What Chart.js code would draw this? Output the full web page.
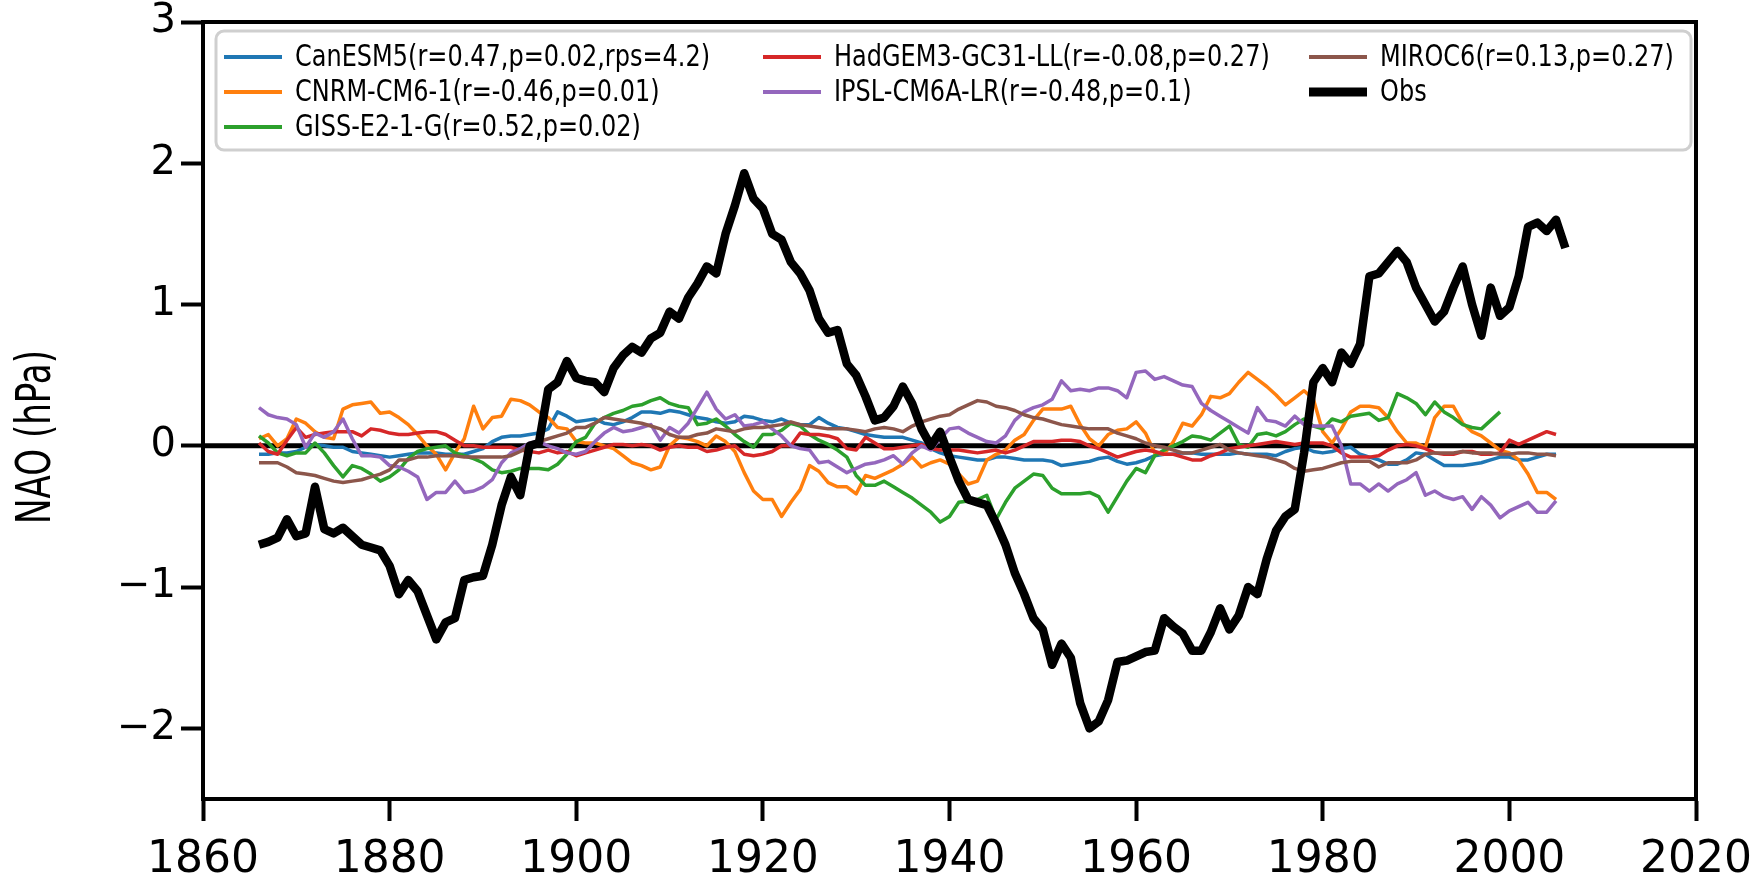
<!DOCTYPE html>
<html lang="en">
<head>
    <meta charset="UTF-8">
    <title>NAO - models vs obs</title>
    <script src="https://cdn.jsdelivr.net/npm/chart.js@4.4.1/dist/chart.umd.min.js"></script>
    <style>
        html, body { margin: 0; padding: 0; background: #ffffff; }
        #wrap { width: 1754px; height: 886px; }
    </style>
</head>
<body>
<div id="wrap"><canvas id="naoChart" width="1754" height="886"></canvas></div>
<script>
    // years: models 1866-2005, GISS 1866-1999, obs 1866-2006
    const years = Array.from({ length: 140 }, (_, i) => 1866 + i);
    const obsYears = Array.from({ length: 141 }, (_, i) => 1866 + i);

    const canesm5 = [
        -0.06, -0.06, -0.05, -0.05, -0.04, -0.01, 0.01, 0.00, -0.01, -0.01,
        -0.04, -0.05, -0.06, -0.07, -0.08, -0.07, -0.06, -0.05, -0.05, -0.05,
        -0.06, -0.06, -0.06, -0.04, -0.02, 0.03, 0.06, 0.07, 0.07, 0.08,
        0.09, 0.12, 0.24, 0.21, 0.17, 0.18, 0.19, 0.16, 0.15, 0.17,
        0.20, 0.24, 0.24, 0.23, 0.25, 0.24, 0.22, 0.20, 0.19, 0.17,
        0.16, 0.17, 0.21, 0.20, 0.18, 0.17, 0.19, 0.16, 0.15, 0.15,
        0.20, 0.16, 0.13, 0.12, 0.10, 0.08, 0.07, 0.06, 0.06, 0.06,
        0.04, 0.02, -0.02, -0.05, -0.07, -0.08, -0.09, -0.10, -0.10, -0.08,
        -0.08, -0.09, -0.10, -0.10, -0.10, -0.11, -0.14, -0.13, -0.12, -0.11,
        -0.09, -0.08, -0.11, -0.13, -0.12, -0.10, -0.07, -0.06, -0.06, -0.05,
        -0.05, -0.06, -0.06, -0.06, -0.06, -0.05, -0.06, -0.06, -0.06, -0.07,
        -0.04, -0.02, -0.01, -0.04, -0.05, -0.04, -0.02, -0.01, -0.06, -0.08,
        -0.10, -0.13, -0.13, -0.10, -0.05, -0.06, -0.10, -0.14, -0.14, -0.14,
        -0.13, -0.12, -0.10, -0.08, -0.08, -0.10, -0.10, -0.08, -0.06, -0.06
    ];
    const cnrm = [
        0.05, 0.08, 0.00, 0.05, 0.19, 0.16, 0.10, 0.06, 0.05, 0.26,
        0.29, 0.30, 0.31, 0.23, 0.24, 0.20, 0.15, 0.08, 0.00, -0.06,
        -0.17, -0.05, 0.05, 0.28, 0.12, 0.20, 0.21, 0.33, 0.32, 0.29,
        0.24, 0.20, 0.13, 0.12, 0.03, 0.02, 0.02, 0.00, -0.02, -0.07,
        -0.12, -0.14, -0.17, -0.15, 0.00, 0.06, 0.05, 0.03, 0.00, 0.07,
        0.03, -0.04, -0.19, -0.32, -0.38, -0.38, -0.50, -0.40, -0.31, -0.14,
        -0.18, -0.26, -0.29, -0.29, -0.34, -0.21, -0.23, -0.20, -0.17, -0.13,
        -0.08, -0.15, -0.12, -0.10, -0.13, -0.20, -0.27, -0.25, -0.10, -0.06,
        -0.03, 0.04, 0.08, 0.18, 0.26, 0.26, 0.26, 0.28, 0.15, 0.05,
        0.00, 0.08, 0.11, 0.12, 0.17, 0.09, -0.05, -0.06, 0.03, 0.16,
        0.14, 0.22, 0.35, 0.34, 0.37, 0.45, 0.52, 0.47, 0.42, 0.36,
        0.29, 0.34, 0.39, 0.33, 0.10, 0.02, 0.12, 0.24, 0.28, 0.28,
        0.27, 0.20, 0.10, 0.02, 0.02, -0.01, 0.20, 0.28, 0.28, 0.16,
        0.10, 0.07, 0.02, -0.03, -0.05, -0.10, -0.20, -0.33, -0.33, -0.38
    ];
    const giss = [
        0.07, 0.02, -0.05, -0.07, -0.05, -0.05, 0.02, -0.05, -0.14, -0.22,
        -0.14, -0.16, -0.20, -0.25, -0.22, -0.17, -0.09, -0.04, -0.02, -0.01,
        0.00, -0.05, -0.07, -0.09, -0.12, -0.17, -0.19, -0.18, -0.16, -0.16,
        -0.16, -0.17, -0.13, -0.06, 0.03, 0.06, 0.16, 0.20, 0.23, 0.25,
        0.28, 0.29, 0.32, 0.34, 0.30, 0.28, 0.27, 0.15, 0.16, 0.19,
        0.14, 0.08, 0.03, -0.01, 0.08, 0.08, 0.11, 0.16, 0.14, 0.08,
        0.04, 0.01, -0.03, -0.08, -0.21, -0.28, -0.28, -0.25, -0.29, -0.33,
        -0.37, -0.42, -0.47, -0.54, -0.50, -0.40, -0.39, -0.38, -0.35, -0.52,
        -0.40, -0.30, -0.25, -0.20, -0.21, -0.30, -0.34, -0.34, -0.34, -0.33,
        -0.36, -0.47, -0.36, -0.25, -0.16, -0.19, -0.07, -0.03, 0.00, 0.03,
        0.07, 0.06, 0.04, 0.09, 0.14, 0.01, -0.01, 0.08, 0.09, 0.07,
        0.10, 0.15, 0.19, 0.14, 0.12, 0.19, 0.17, 0.21, 0.22, 0.23,
        0.18, 0.20, 0.37, 0.34, 0.30, 0.22, 0.31, 0.24, 0.20, 0.15,
        0.13, 0.12, 0.18, 0.24
    ];
    const hadgem3 = [
        0.02, -0.04, -0.06, 0.04, 0.13, 0.06, 0.08, 0.09, 0.10, 0.10,
        0.10, 0.07, 0.12, 0.11, 0.09, 0.08, 0.08, 0.09, 0.10, 0.10,
        0.08, 0.04, 0.00, 0.00, -0.01, -0.01, -0.01, -0.01, -0.03, -0.04,
        -0.05, -0.03, -0.05, -0.04, -0.07, -0.05, -0.03, -0.01, 0.01, 0.01,
        0.00, 0.01, 0.00, -0.03, -0.01, 0.00, -0.01, -0.01, -0.04, -0.03,
        -0.01, 0.00, -0.06, -0.07, -0.06, -0.04, 0.00, 0.00, 0.09, 0.08,
        0.08, 0.07, 0.05, -0.02, -0.03, 0.06, 0.02, -0.02, -0.02, -0.01,
        0.00, 0.01, -0.02, -0.03, -0.03, -0.03, -0.04, -0.05, -0.04, -0.03,
        -0.05, -0.03, 0.00, 0.03, 0.03, 0.03, 0.04, 0.04, 0.03, 0.00,
        -0.02, -0.05, -0.08, -0.06, -0.04, -0.03, -0.04, -0.06, -0.06, -0.08,
        -0.10, -0.10, -0.07, -0.05, -0.02, -0.01, 0.00, 0.01, 0.02, 0.03,
        0.02, 0.01, 0.02, 0.02, 0.02, 0.00, -0.05, -0.08, -0.08, -0.08,
        -0.07, -0.03, 0.00, 0.01, 0.00, -0.02, -0.05, -0.06, -0.06, -0.04,
        -0.04, -0.06, -0.06, -0.05, 0.04, 0.01, 0.04, 0.07, 0.10, 0.08
    ];
    const ipsl = [
        0.27, 0.22, 0.20, 0.19, 0.15, -0.01, 0.09, 0.06, 0.10, 0.19,
        0.05, -0.07, -0.07, -0.08, -0.14, -0.15, -0.18, -0.22, -0.38, -0.33,
        -0.33, -0.25, -0.33, -0.32, -0.29, -0.24, -0.12, -0.05, -0.02, 0.02,
        0.03, 0.00, -0.02, -0.05, -0.06, -0.04, 0.03, 0.09, 0.13, 0.10,
        0.11, 0.13, 0.15, 0.04, 0.13, 0.09, 0.16, 0.27, 0.38, 0.26,
        0.19, 0.22, 0.14, 0.15, 0.17, 0.12, 0.07, 0.00, -0.02, -0.03,
        -0.12, -0.11, -0.15, -0.19, -0.16, -0.13, -0.12, -0.10, -0.07, -0.13,
        -0.05, 0.00, -0.03, 0.05, 0.12, 0.13, 0.09, 0.06, 0.03, 0.02,
        0.07, 0.18, 0.24, 0.27, 0.29, 0.33, 0.46, 0.39, 0.40, 0.39,
        0.41, 0.41, 0.39, 0.34, 0.52, 0.53, 0.47, 0.49, 0.46, 0.43,
        0.42, 0.30, 0.25, 0.21, 0.17, 0.13, 0.09, 0.27, 0.18, 0.17,
        0.14, 0.21, 0.15, 0.14, 0.14, 0.14, 0.00, -0.27, -0.27, -0.32,
        -0.27, -0.32, -0.27, -0.24, -0.19, -0.35, -0.32, -0.36, -0.38, -0.36,
        -0.45, -0.36, -0.42, -0.51, -0.46, -0.43, -0.40, -0.47, -0.47, -0.39
    ];
    const miroc6 = [
        -0.12, -0.12, -0.12, -0.15, -0.19, -0.20, -0.21, -0.23, -0.25, -0.26,
        -0.25, -0.24, -0.22, -0.20, -0.17, -0.10, -0.10, -0.08, -0.08, -0.07,
        -0.07, -0.07, -0.08, -0.08, -0.08, -0.08, -0.08, -0.07, -0.04, 0.00,
        0.03, 0.05, 0.07, 0.09, 0.13, 0.13, 0.16, 0.20, 0.19, 0.18,
        0.17, 0.16, 0.14, 0.12, 0.08, 0.06, 0.06, 0.08, 0.09, 0.12,
        0.11, 0.10, 0.12, 0.13, 0.13, 0.14, 0.15, 0.17, 0.15, 0.14,
        0.13, 0.12, 0.12, 0.12, 0.11, 0.10, 0.12, 0.13, 0.12, 0.10,
        0.14, 0.17, 0.19, 0.21, 0.22, 0.26, 0.29, 0.32, 0.31, 0.28,
        0.27, 0.25, 0.22, 0.20, 0.19, 0.17, 0.15, 0.14, 0.13, 0.12,
        0.12, 0.12, 0.09, 0.07, 0.05, 0.02, 0.00, -0.01, -0.03, -0.05,
        -0.05, -0.03, -0.01, 0.01, -0.03, -0.05, -0.06, -0.07, -0.08, -0.10,
        -0.12, -0.16, -0.18, -0.17, -0.16, -0.14, -0.12, -0.11, -0.11, -0.11,
        -0.15, -0.12, -0.12, -0.12, -0.10, -0.06, -0.05, -0.05, -0.05, -0.04,
        -0.05, -0.05, -0.05, -0.06, -0.06, -0.05, -0.05, -0.06, -0.06, -0.07
    ];
    const obs = [
        -0.70, -0.68, -0.65, -0.52, -0.64, -0.62, -0.29, -0.59, -0.62, -0.58,
        -0.64, -0.70, -0.72, -0.74, -0.85, -1.05, -0.95, -1.03, -1.20, -1.37,
        -1.25, -1.22, -0.95, -0.93, -0.92, -0.70, -0.42, -0.22, -0.35, 0.00,
        0.02, 0.40, 0.45, 0.60, 0.48, 0.46, 0.45, 0.38, 0.55, 0.64,
        0.70, 0.66, 0.76, 0.80, 0.95, 0.90, 1.05, 1.15, 1.27, 1.22,
        1.50, 1.70, 1.93, 1.75, 1.68, 1.50, 1.46, 1.30, 1.22, 1.10,
        0.90, 0.80, 0.82, 0.58, 0.50, 0.35, 0.18, 0.20, 0.28, 0.42,
        0.30, 0.12, 0.00, 0.10, -0.08, -0.25, -0.38, -0.40, -0.42, -0.55,
        -0.70, -0.90, -1.05, -1.22, -1.30, -1.55, -1.40, -1.50, -1.82, -2.00,
        -1.95, -1.80, -1.53, -1.52, -1.49, -1.46, -1.45, -1.22, -1.28, -1.33,
        -1.45, -1.45, -1.32, -1.15, -1.30, -1.20, -1.00, -1.05, -0.80, -0.60,
        -0.50, -0.45, -0.05, 0.45, 0.55, 0.45, 0.66, 0.58, 0.72, 1.20,
        1.22, 1.30, 1.38, 1.30, 1.12, 1.00, 0.88, 0.95, 1.12, 1.27,
        1.00, 0.78, 1.12, 0.92, 0.98, 1.20, 1.55, 1.58, 1.52, 1.60,
        1.40
    ];

    const xTicks = [1860, 1880, 1900, 1920, 1940, 1960, 1980, 2000, 2020];
    const yTicks = [-2, -1, 0, 1, 2, 3];

    const pts = (xs, ys) => ys.map((v, i) => ({ x: xs[i], y: v }));

    // frame, in-axes legend and condensed y label (matplotlib look)
    const decor = {
        id: 'decor',
        afterDatasetsDraw(chart) {
            const ctx = chart.ctx;
            const a = chart.chartArea;
            ctx.save();
            ctx.strokeStyle = '#000';
            ctx.lineWidth = 4;
            ctx.strokeRect(a.left, a.top, a.right - a.left, a.bottom - a.top);
            ctx.restore();
        },
        afterDraw(chart) {
            const ctx = chart.ctx;
            ctx.save();
            // legend box
            const bx = 216, by = 31, bw = 1475, bh = 119, r = 8;
            ctx.beginPath();
            ctx.roundRect(bx, by, bw, bh, r);
            ctx.fillStyle = 'rgba(255,255,255,0.85)';
            ctx.fill();
            ctx.strokeStyle = '#cfcfcf';
            ctx.lineWidth = 3;
            ctx.stroke();

            const colX = [224, 763, 1309];
            const rowY = [57, 92, 127];
            const entries = chart.data.datasets.filter(d => d.label);
            entries.forEach((d, i) => {
                const col = i < 3 ? 0 : (i < 5 ? 1 : 2);
                const row = i < 3 ? i : (i < 5 ? i - 3 : i - 5);
                const x = colX[col], y = rowY[row];
                ctx.beginPath();
                ctx.moveTo(x, y);
                ctx.lineTo(x + 58, y);
                ctx.strokeStyle = d.borderColor;
                ctx.lineWidth = d.label === 'Obs' ? 9 : 4;
                ctx.stroke();
                ctx.save();
                ctx.translate(x + 71, y + 1);
                ctx.scale(0.8, 1);
                ctx.fillStyle = '#000';
                ctx.font = '30px "DejaVu Sans"';
                ctx.textBaseline = 'middle';
                ctx.textAlign = 'left';
                ctx.fillText(d.label, 0, 0);
                ctx.restore();
            });

            // y axis title
            ctx.translate(38, 437);
            ctx.rotate(-Math.PI / 2);
            ctx.scale(0.71, 1);
            ctx.fillStyle = '#000';
            ctx.font = '48px "DejaVu Sans"';
            ctx.textAlign = 'center';
            ctx.textBaseline = 'middle';
            ctx.fillText('NAO (hPa)', 0, 0);
            ctx.restore();
        }
    };

    const line = (label, xs, ys, color, width, order) => ({
        label: label,
        data: pts(xs, ys),
        borderColor: color,
        backgroundColor: color,
        borderWidth: width,
        pointRadius: 0,
        tension: 0,
        borderJoinStyle: 'round',
        fill: false,
        order: order
    });

    const ctx = document.getElementById('naoChart').getContext('2d');
    new Chart(ctx, {
        type: 'line',
        data: {
            datasets: [
                line('CanESM5(r=0.47,p=0.02,rps=4.2)', years, canesm5, '#1f77b4', 3.5, 6),
                line('CNRM-CM6-1(r=-0.46,p=0.01)', years, cnrm, '#ff7f0e', 3.5, 5),
                line('GISS-E2-1-G(r=0.52,p=0.02)', years, giss, '#2ca02c', 3.5, 4),
                line('HadGEM3-GC31-LL(r=-0.08,p=0.27)', years, hadgem3, '#d62728', 3.5, 3),
                line('IPSL-CM6A-LR(r=-0.48,p=0.1)', years, ipsl, '#9467bd', 3.5, 2),
                line('MIROC6(r=0.13,p=0.27)', years, miroc6, '#8c564b', 3.5, 1),
                line('Obs', obsYears, obs, '#000000', 8.5, 0),
                // zero reference line across the axes
                line('', [xTicks[0], xTicks[xTicks.length - 1]], [0, 0], '#000000', 5, 7)
            ]
        },
        options: {
            responsive: false,
            animation: false,
            devicePixelRatio: 1,
            layout: { autoPadding: false, padding: { top: 22, right: 58, left: 0, bottom: 0 } },
            plugins: { legend: { display: false }, tooltip: { enabled: false } },
            scales: {
                x: {
                    type: 'linear',
                    min: xTicks[0],
                    max: xTicks[xTicks.length - 1],
                    afterBuildTicks: s => { s.ticks = xTicks.map(v => ({ value: v })); },
                    afterFit: s => { s.height = 87; s.paddingLeft = 0; s.paddingRight = 0; },
                    ticks: {
                        color: '#000',
                        font: { family: 'DejaVu Sans', size: 44 },
                        padding: 13,
                        maxRotation: 0,
                        autoSkip: false,
                        callback: v => String(v)
                    },
                    grid: { drawOnChartArea: false, drawTicks: true, tickLength: 22, tickWidth: 4, tickColor: '#000' },
                    border: { display: true, color: '#000', width: 4 }
                },
                y: {
                    min: -2.5,
                    max: 3,
                    afterBuildTicks: s => { s.ticks = yTicks.map(v => ({ value: v })); },
                    afterFit: s => { s.width = 203; s.paddingTop = 0; s.paddingBottom = 0; },
                    ticks: {
                        color: '#000',
                        font: { family: 'DejaVu Sans', size: 40, lineHeight: 1 },
                        padding: 5,
                        callback: v => (v < 0 ? '\u2212' + Math.abs(v) : String(v))
                    },
                    grid: { drawOnChartArea: false, drawTicks: true, tickLength: 22, tickWidth: 4, tickColor: '#000' },
                    border: { display: true, color: '#000', width: 4 }
                }
            }
        },
        plugins: [decor]
    });
</script>
</body>
</html>
